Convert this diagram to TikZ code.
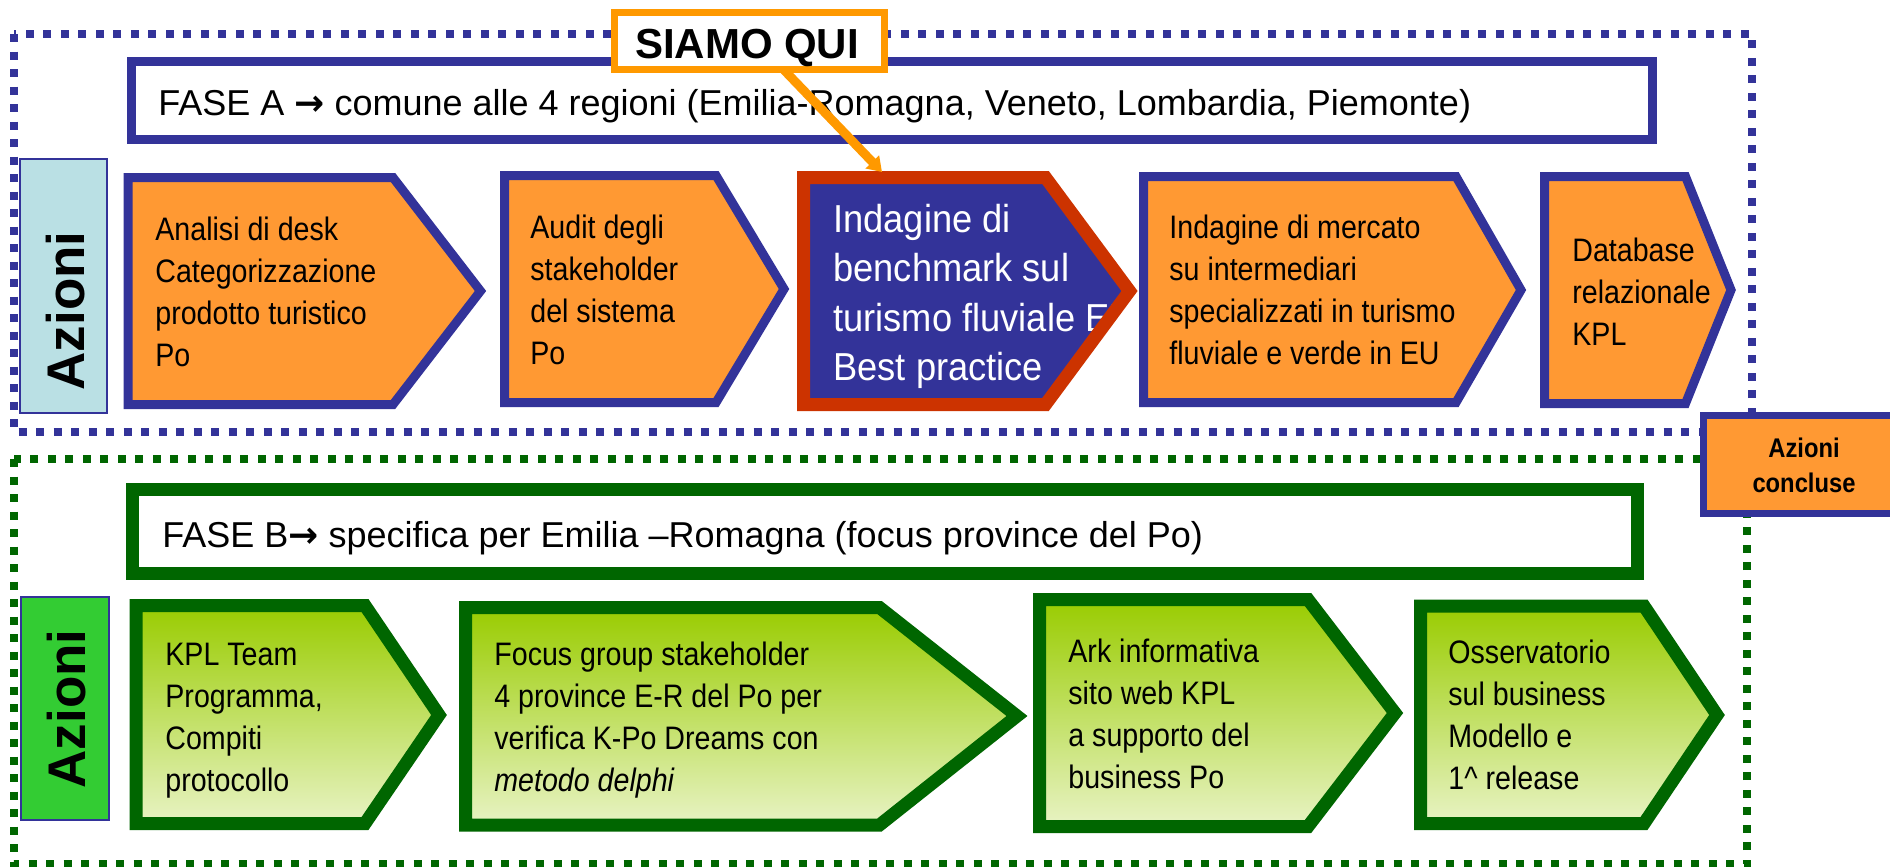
\documentclass[tikz,border=0pt]{standalone}
\usepackage{fontspec}
\setmainfont{Liberation Sans}
\newfontfamily\condfont[FakeStretch=0.88]{Liberation Sans}
\newfontfamily\indfont[FakeStretch=0.93]{Liberation Sans}
\newfontfamily\donefont[FakeStretch=0.88]{Liberation Sans}
\newfontfamily\arrowfont{DejaVu Sans}
\usetikzlibrary{arrows.meta}

\definecolor{kblue}{RGB}{51,51,153}
\definecolor{korange}{RGB}{255,153,51}
\definecolor{kred}{RGB}{204,51,0}
\definecolor{kgreen}{RGB}{0,102,0}
\definecolor{klightblue}{RGB}{186,224,228}
\definecolor{kbright}{RGB}{51,204,51}
\definecolor{kamber}{RGB}{255,153,0}
\definecolor{kgtop}{RGB}{153,204,0}
\definecolor{kgbot}{RGB}{232,243,196}

\newcommand{\mlines}[1]{\begin{tabular}[t]{@{}l@{}}#1\end{tabular}}
\newcommand{\clines}[1]{\begin{tabular}[t]{@{}c@{}}#1\end{tabular}}
% chevron: style, left, top, bottom, corner x, tip x, mid y
\newcommand{\chevron}[7]{\path[#1] (#2,#3) -- (#5,#3) -- (#6,#7) -- (#5,#4) -- (#2,#4) -- cycle;}
\newcommand{\rarr}{{\arrowfont\bfseries →}}

\begin{document}
\begin{tikzpicture}[x=0.5pt,y=-0.5pt,
  bluedots/.style={draw=kblue,line width=4pt,dash pattern=on 4pt off 4.75pt},
  greendots/.style={draw=kgreen,line width=4pt,dash pattern=on 4pt off 4.75pt},
  fasea/.style={draw=kblue,line width=4.5pt,fill=white},
  faseb/.style={draw=kgreen,line width=6.5pt,fill=white},
  fasetext/.style={anchor=base west,inner sep=0pt,font=\fontsize{18}{22}\selectfont},
  labelbox/.style={draw=kblue,line width=1pt},
  azioni/.style={rotate=90,anchor=center,inner sep=0pt,font=\fontsize{26.5}{30}\selectfont\bfseries},
  orangechev/.style={fill=korange,draw=kblue,line width=4.5pt,line join=miter},
  greenchev/.style={top color=kgtop,bottom color=kgbot,draw=kgreen,line width=6.5pt,line join=miter},
  chevtext/.style={anchor=base west,inner sep=0pt,font=\fontsize{16.25}{21}\condfont},
  indtext/.style={anchor=base west,inner sep=0pt,text=white,font=\fontsize{19.5}{24.75}\indfont},
  siamobox/.style={draw=kamber,line width=3.5pt,fill=white},
  pointer/.style={draw=kamber,line width=4.5pt,-{Triangle[width=9pt,length=7pt]}},
  donebox/.style={fill=korange,draw=kblue,line width=3.5pt}
]
\useasboundingbox (0,0) rectangle (1890,867);

% dotted frames
\path[bluedots] (14,34) rectangle (1752,432);
\path[greendots] (13.5,459) rectangle (1747,864);

% phase boxes
\path[fasea] (131.5,61.5) rectangle (1652.5,139.5);
\node[fasetext] (faseA) at (158,115) {FASE A \rarr{} comune alle 4 regioni (Emilia-Romagna, Veneto, Lombardia, Piemonte)};
\path[faseb] (132.5,489.5) rectangle (1637.5,573.5);
\node[fasetext] (faseB) at (162,547) {FASE B\rarr{} specifica per Emilia –Romagna (focus province del Po)};

% Azioni labels
\path[labelbox,fill=klightblue] (20,159) rectangle (107,413);
\node[azioni] (azA) at (66,311) {Azioni};
\path[labelbox,fill=kbright] (21,597) rectangle (109,820);
\node[azioni] (azB) at (67,709) {Azioni};

% row A chevrons
\chevron{orangechev}{128}{177.5}{404.5}{393}{480.5}{291}
\node[chevtext] (analisi) at (155,240) {\mlines{Analisi di desk\\Categorizzazione\\prodotto turistico\\Po}};
\chevron{orangechev}{504.5}{175.5}{402.5}{716}{784}{289}
\node[chevtext] (audit) at (530,238) {\mlines{Audit degli\\stakeholder\\del sistema\\Po}};
\chevron{fill=kblue}{803.5}{177.5}{404.5}{1045.5}{1129.5}{291}
\node[indtext] (indagine) at (833,232) {\mlines{Indagine di\\benchmark sul\\turismo fluviale EU\\Best practice}};
\chevron{draw=kred,line width=6.5pt,line join=miter}{803.5}{177.5}{404.5}{1045.5}{1129.5}{291}
\chevron{orangechev}{1143.5}{176.5}{402.5}{1456}{1521}{290}
\node[chevtext] (mercato) at (1169,238) {\mlines{Indagine di mercato\\su intermediari\\specializzati in turismo\\fluviale e verde in EU}};
\chevron{orangechev}{1544.5}{176.5}{403.5}{1685.5}{1731}{290}
\node[chevtext] (database) at (1572,261) {\mlines{Database\\relazionale\\KPL}};

% row B chevrons
\chevron{greenchev}{136}{605.5}{823.5}{365}{439}{715}
\node[chevtext] (kpl) at (165,665) {\mlines{KPL Team\\Programma,\\Compiti\\protocollo}};
\chevron{greenchev}{465.5}{607.5}{825}{879.5}{1017}{716}
\node[chevtext] (focus) at (494,665) {\mlines{Focus group stakeholder\\4 province E-R del Po per\\verifica K-Po Dreams con\\\textit{metodo delphi}}};
\chevron{greenchev}{1039.5}{599.5}{826.5}{1308}{1395}{713}
\node[chevtext] (ark) at (1068,662) {\mlines{Ark informativa\\sito web KPL\\a supporto del\\business Po}};
\chevron{greenchev}{1420.5}{606}{823.5}{1644}{1717}{715}
\node[chevtext] (osserv) at (1448,663) {\mlines{Osservatorio\\sul business\\Modello e\\1\textasciicircum{} release}};

% SIAMO QUI
\path[siamobox] (614.5,12.5) rectangle (884.5,69.5);
\node[anchor=base,inner sep=0pt,font=\fontsize{21}{24}\selectfont\bfseries] (siamo) at (747,58) {SIAMO QUI};
\coordinate (arrS) at (784,70);
\coordinate (arrE) at (882,172);
\draw[pointer] (arrS) -- (arrE);

% Azioni concluse
\path[donebox] (1703.5,415.5) rectangle (1910,513.5);
\node[anchor=base,inner sep=0pt,font=\fontsize{13.5}{17.5}\donefont\bfseries] (concluse) at (1804,457) {\clines{Azioni\\concluse}};
\end{tikzpicture}
\end{document}
